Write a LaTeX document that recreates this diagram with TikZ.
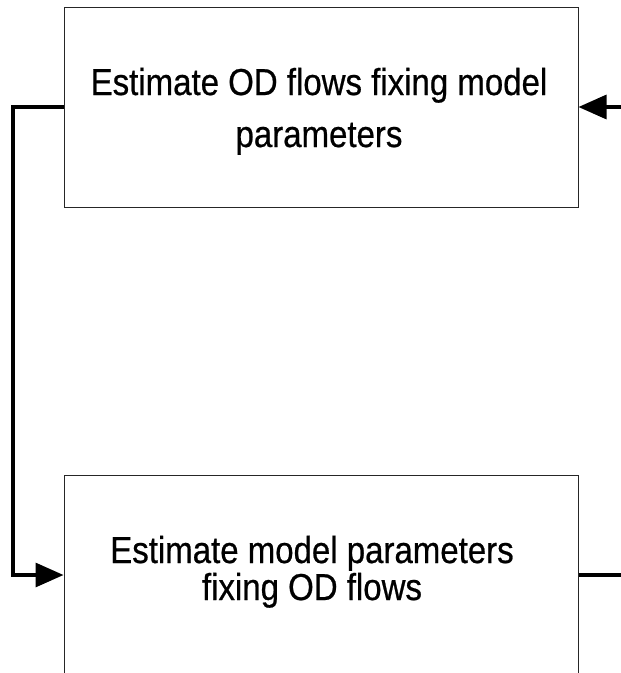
\documentclass[tikz,border=0pt]{standalone}
\usepackage{fontspec}
\newfontfamily\labfont[FakeStretch=0.88,FakeBold=0.6]{Liberation Sans}
\usetikzlibrary{arrows.meta}
\tikzset{
  box/.style={draw=black!85, line width=1pt, minimum width=514pt, minimum height=200pt, inner sep=0pt},
  lab/.style={font=\labfont\fontsize{37.5}{40}\selectfont, anchor=base, inner sep=0pt},
  conn/.style={line width=3.2pt, black},
  tip/.style={-{Triangle[length=28pt,width=24pt]}}
}
\begin{document}
\begin{tikzpicture}[x=1pt,y=-1pt]
\useasboundingbox (0,0) rectangle (621,673);
\clip (0,0) rectangle (621,673);
\node[box] (top) at (321,107) {};
\node[box] (bot) at (321,575) {};
\node[lab] (t1) at (319,95) {Estimate OD flows fixing model};
\node[lab] (t2) at (319,147) {parameters};
\node[lab] (b1) at (312,563) {Estimate model parameters};
\node[lab] (b2) at (312,600) {fixing OD flows};
\coordinate (lx) at (13,0);
\coordinate (rin) at (630,107);
\coordinate (rout) at (630,575);
\draw[conn,tip] (top.west) -- (top.west -| lx) |- (bot.west);
\draw[conn,tip] (rin) -- (top.east);
\draw[conn] (bot.east) -- (rout);
\end{tikzpicture}
\end{document}
